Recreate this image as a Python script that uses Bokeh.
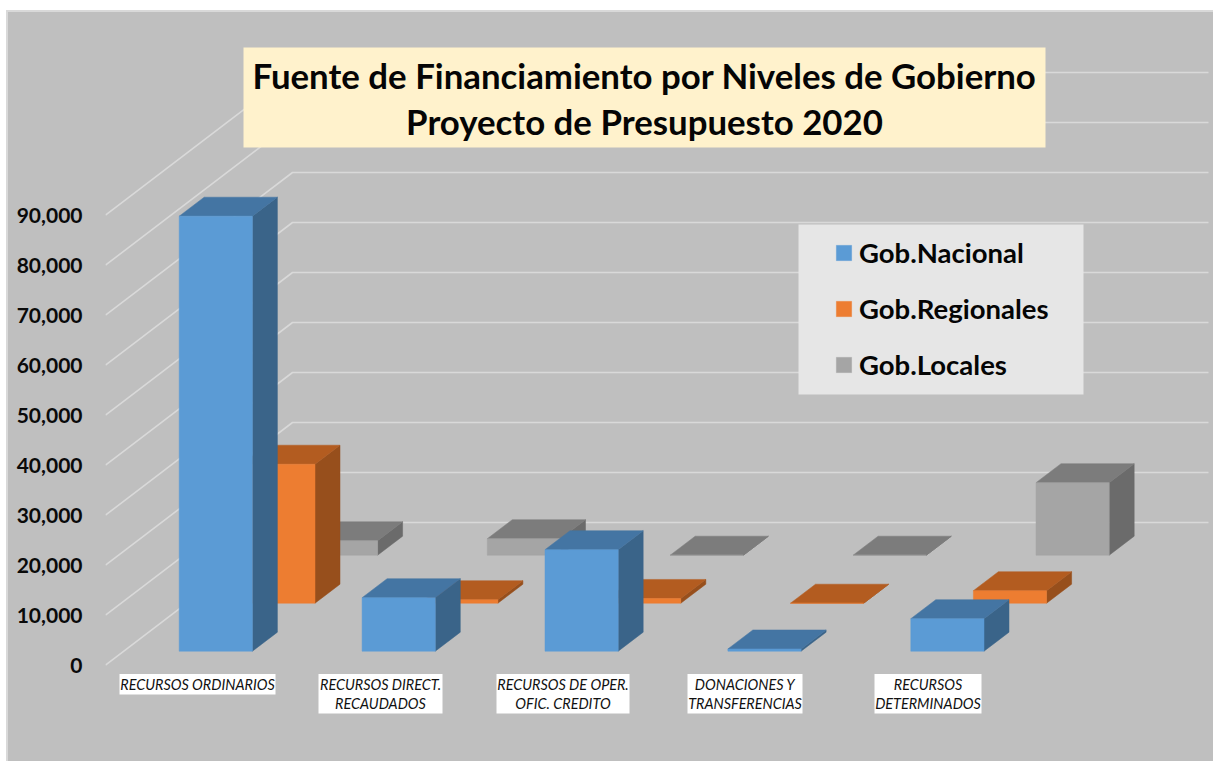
from bokeh.plotting import figure
from bokeh.models import Legend, LegendItem, FixedTicker, NumeralTickFormatter, Range1d
from bokeh.core.properties import value
from bokeh.embed import file_html
from bokeh.resources import INLINE

# ---- data -------------------------------------------------------------
categories = ["RECURSOS ORDINARIOS", "RECURSOS DIRECT.\nRECAUDADOS",
              "RECURSOS DE OPER.\nOFIC. CREDITO", "DONACIONES Y\nTRANSFERENCIAS",
              "RECURSOS\nDETERMINADOS"]
series_names = ["Gob.Nacional", "Gob.Regionales", "Gob.Locales"]
gob_nacional = [87000, 10700, 20300, 450, 6500]
gob_regionales = [27800, 700, 950, 0, 2500]
gob_locales = [2900, 3300, 0, 0, 14500]
y_ticks = [0, 10000, 20000, 30000, 40000, 50000, 60000, 70000, 80000, 90000]
title_lines = ["Fuente de Financiamiento por Niveles de Gobierno", "Proyecto de Presupuesto 2020"]

# ---- styling ----------------------------------------------------------
front_colors = ["#5b9bd5", "#ed7d31", "#a5a5a5"]
top_colors = ["#4475a3", "#b35c20", "#7c7c7c"]
side_colors = ["#3a6489", "#974f1c", "#6b6b6b"]
BG = "#bfbfbf"
GRID = "#d9d9d9"
FONT = "Lato"

# ---- layout: one category = 183 px, 10,000 = 50 px --------------------
PX_X, PX_Y = 182.9, 200.0           # px -> data factors
X0, Y0 = 178.7, 664.7               # page px of x=0 and y=0
FIG_L, FIG_T = 8, 12
FRAME_L, FIG_W, FIG_H = 105, 1207, 760


def dx(px):
    return px / PX_X


def dy(px):
    return px * PX_Y


def X(px):
    return (px - X0) / PX_X


def Y(py):
    return (Y0 - py) * PX_Y


bar_w = dx(73.2)
bar_dx, bar_dy = dx(25), dy(19)
ser_dx, ser_dy = dx(62.6), dy(48)
base0 = dy(14)
wall_dx, wall_dy = dx(187), dy(142.7)

p = figure(width=FIG_W, height=FIG_H, output_backend="svg", toolbar_location=None,
           x_range=Range1d(X(FRAME_L), X(FIG_L + FIG_W)),
           y_range=Range1d(Y(FIG_T + FIG_H), Y(FIG_T)),
           background_fill_color=None, border_fill_color=None, outline_line_color=None,
           min_border_left=FRAME_L - FIG_L, min_border_right=0, min_border_top=0, min_border_bottom=0,
           x_axis_location=None,
           styles={"position": "fixed", "left": "6px", "top": "10px", "background-color": BG,
                   "border-left": "2px solid #d9d9d9", "border-top": "2px solid #d9d9d9"})
p.grid.visible = False

ax = p.yaxis[0]
ax.ticker = FixedTicker(ticks=y_ticks)
ax.formatter = NumeralTickFormatter(format="0,0")
ax.axis_line_color = None
ax.major_tick_line_color = None
ax.minor_tick_line_color = None
ax.major_label_text_font = FONT
ax.major_label_text_font_style = "bold"
ax.major_label_text_font_size = "21px"
ax.major_label_text_color = "#0a0a0a"
ax.major_label_standoff = 17

# gridlines on the floor edge and back wall
right_end = X(1208)
xs_g, ys_g = [], []
for t in y_ticks:
    xs_g.append([X(FRAME_L), X(FRAME_L) + wall_dx, right_end])
    ys_g.append([t, t + wall_dy, t + wall_dy])
p.multi_line(xs_g, ys_g, line_color=GRID, line_width=1.6)

# bars, back row first
all_series = [gob_nacional, gob_regionales, gob_locales]
legend_items = {}
for s in [2, 1, 0]:
    vals = all_series[s]
    fx, fy, tx, ty, sx, sy = [], [], [], [], [], []
    for i, v in enumerate(vals):
        x0 = i + s * ser_dx
        x1 = x0 + bar_w
        b = base0 + s * ser_dy
        h = b + v
        fx.append([x0, x1, x1, x0]); fy.append([b, b, h, h])
        tx.append([x0, x1, x1 + bar_dx, x0 + bar_dx]); ty.append([h, h, h + bar_dy, h + bar_dy])
        sx.append([x1, x1 + bar_dx, x1 + bar_dx, x1]); sy.append([b, b + bar_dy, h + bar_dy, h])
    p.patches(sx, sy, fill_color=side_colors[s], line_color=side_colors[s], line_width=0.5)
    p.patches(tx, ty, fill_color=top_colors[s], line_color=top_colors[s], line_width=0.5)
    legend_items[s] = p.patches(fx, fy, fill_color=front_colors[s], line_color=front_colors[s], line_width=0.5)

# title box
p.quad(left=[X(243)], right=[X(1045)], bottom=[Y(147)], top=[Y(47)], fill_color="#fff2cc", line_color=None)
p.text(x=[X(644)] * 2, y=[Y(75), Y(120.5)], text=title_lines, text_font=value(FONT),
       text_font_style="bold", text_font_size="34.8px", text_align="center", text_baseline="middle",
       text_color="#050505")

# category labels on white boxes
box_left = [119, 318, 496, 687, 874]
box_right = [275, 442, 629, 802, 981]
box_bottom = [694, 713, 713, 713, 713]
p.quad(left=[X(v) for v in box_left], right=[X(v) for v in box_right],
       bottom=[Y(v) for v in box_bottom], top=[Y(673.5)] * 5, fill_color="white", line_color=None)
p.text(x=[X((a + b) / 2) for a, b in zip(box_left, box_right)],
       y=[Y((673.5 + b) / 2) for b in box_bottom], text=categories, text_font=value(FONT),
       text_font_style="italic", text_font_size="14.4px", text_align="center", text_baseline="middle",
       text_color="#111111", text_line_height=1.13)

# legend panel
p.quad(left=[X(798)], right=[X(1083)], bottom=[Y(394)], top=[Y(224)], fill_color="#e6e6e6", line_color=None)
legend = Legend(items=[LegendItem(label=series_names[i], renderers=[legend_items[i]]) for i in range(3)],
                location=(834 - FRAME_L, FIG_T + FIG_H - 381), orientation="vertical",
                background_fill_alpha=0.0, border_line_color=None,
                glyph_width=19, glyph_height=19, label_standoff=6, spacing=23,
                padding=0, margin=0,
                label_text_font=FONT, label_text_font_style="bold", label_text_font_size="27.5px",
                label_text_color="#050505")
p.add_layout(legend, "center")

open("out.html", "w").write(file_html(p, INLINE))
